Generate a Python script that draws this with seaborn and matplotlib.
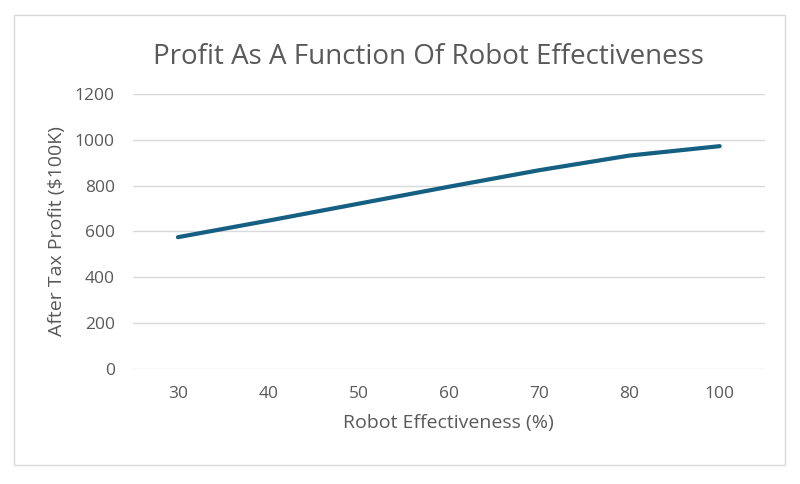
import pandas as pd
import seaborn as sns
import matplotlib.pyplot as plt
from matplotlib.patches import Rectangle

# data
effectiveness = ['30', '40', '50', '60', '70', '80', '100']
profit = [575, 647, 721, 795, 867, 931, 972]
y_ticks = [0, 200, 400, 600, 800, 1000, 1200]

sns.set_theme(style='white')
plt.rcParams['font.family'] = ['Open Sans', 'DejaVu Sans']
text_col = '#595959'

df = pd.DataFrame({'eff': effectiveness, 'profit': profit})

fig = plt.figure(figsize=(8, 4.84), dpi=100)
ax = fig.add_axes([0.166, 0.2376, 0.79, 0.5684])

sns.lineplot(data=df, x='eff', y='profit', ax=ax, color='#156082',
             linewidth=3, sort=False, solid_capstyle='round')

ax.set_xlim(-0.5, len(effectiveness) - 0.5)
ax.set_ylim(0, 1200)
ax.set_yticks(y_ticks)
ax.grid(axis='y', color='#d9d9d9', linewidth=1)
ax.set_axisbelow(True)
for s in ax.spines.values():
    s.set_visible(False)
ax.tick_params(axis='both', length=0, labelsize=12.5, colors=text_col)
ax.tick_params(axis='x', pad=12)
ax.tick_params(axis='y', pad=13)

ax.set_xlabel('Robot Effectiveness (%)', fontsize=14, color=text_col, labelpad=9)
ax.set_ylabel('After Tax Profit ($100K)', fontsize=14, color=text_col, labelpad=6)
fig.text(0.535, 0.882, 'Profit As A Function Of Robot Effectiveness',
         ha='center', va='center', fontsize=20, color=text_col)

# chart border
fig.patches.append(Rectangle((14 / 800, 1 - 465 / 484), 771 / 800, 450 / 484,
                             transform=fig.transFigure, fill=False,
                             edgecolor='#d9d9d9', linewidth=1))

plt.savefig('out.png', dpi=100)
